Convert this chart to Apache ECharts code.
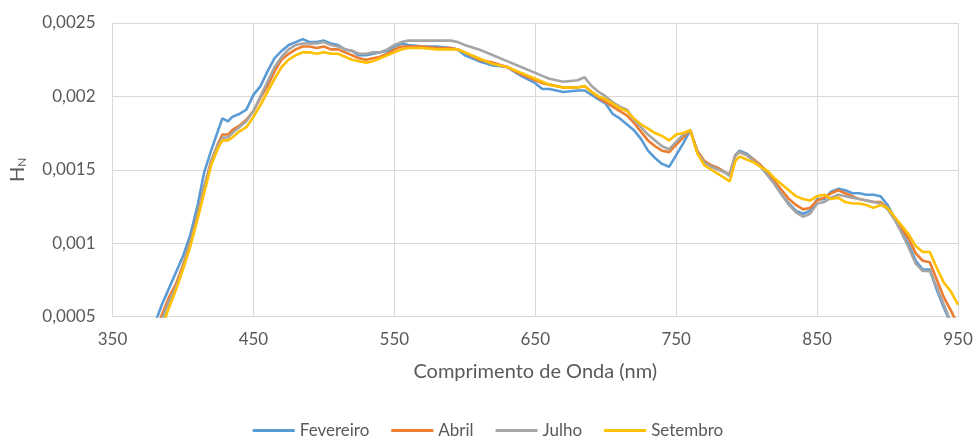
<!DOCTYPE html>
<html>
<head>
<meta charset="utf-8">
<script src="https://cdn.jsdelivr.net/npm/echarts@6/dist/echarts.min.js"></script>
<style>
html,body{margin:0;padding:0;background:#fff;}
#chart{width:976px;height:437px;}
</style>
</head>
<body>
<div id="chart"></div>
<script>
var wavelengths = [
  375,380,385,390,395,400,405,410,415,420,
  425,428,432,435,440,445,450,455,460,465,
  470,475,480,485,490,495,500,505,510,515,
  520,525,530,535,540,545,550,555,560,570,
  580,590,595,600,610,620,630,640,650,655,
  660,670,680,685,690,695,700,705,710,715,
  720,725,730,735,740,745,750,755,760,765,
  770,775,780,785,788,792,795,800,805,810,
  815,820,825,830,835,840,845,850,855,860,
  865,870,875,880,885,890,895,900,905,910,
  915,920,925,930,935,940,945,950
];
var fevereiro = [
  0.00032,0.00045,0.00058,0.00069,0.00080,0.00091,0.00105,0.00124,0.00148,0.00163,
  0.00177,0.00185,0.00183,0.00186,0.00188,0.00191,0.00201,0.00207,0.00217,0.00226,
  0.00231,0.00235,0.00237,0.00239,0.00237,0.00237,0.00238,0.00236,0.00235,0.00232,
  0.00231,0.00228,0.00228,0.00229,0.00230,0.00231,0.00234,0.00236,0.00235,0.00234,
  0.00234,0.00233,0.00232,0.00228,0.00224,0.00221,0.00220,0.00214,0.00209,0.00205,
  0.00205,0.00203,0.00204,0.00204,0.00201,0.00198,0.00195,0.00188,0.00185,0.00181,
  0.00177,0.00171,0.00163,0.00158,0.00154,0.00152,0.00160,0.00168,0.00177,0.00162,
  0.00155,0.00153,0.00151,0.00148,0.00146,0.00160,0.00163,0.00161,0.00157,0.00153,
  0.00148,0.00140,0.00133,0.00127,0.00122,0.00120,0.00122,0.00130,0.00130,0.00135,
  0.00137,0.00136,0.00134,0.00134,0.00133,0.00133,0.00132,0.00126,0.00117,0.00108,
  0.00099,0.00088,0.00082,0.00082,0.00068,0.00056,0.00045,0.00035
];
var abril = [
  0.00025,0.00038,0.00051,0.00063,0.00072,0.00085,0.00100,0.00118,0.00138,0.00156,
  0.00168,0.00174,0.00174,0.00177,0.00180,0.00184,0.00190,0.00199,0.00207,0.00217,
  0.00225,0.00229,0.00232,0.00234,0.00234,0.00233,0.00234,0.00232,0.00232,0.00230,
  0.00228,0.00226,0.00225,0.00226,0.00227,0.00229,0.00232,0.00234,0.00234,0.00234,
  0.00233,0.00233,0.00232,0.00230,0.00225,0.00223,0.00220,0.00215,0.00211,0.00209,
  0.00208,0.00206,0.00206,0.00207,0.00203,0.00199,0.00196,0.00193,0.00190,0.00187,
  0.00182,0.00176,0.00170,0.00166,0.00163,0.00162,0.00167,0.00172,0.00177,0.00163,
  0.00156,0.00153,0.00151,0.00148,0.00147,0.00160,0.00162,0.00160,0.00157,0.00153,
  0.00148,0.00142,0.00136,0.00130,0.00126,0.00123,0.00124,0.00129,0.00131,0.00134,
  0.00136,0.00134,0.00132,0.00130,0.00129,0.00128,0.00128,0.00124,0.00117,0.00110,
  0.00103,0.00093,0.00088,0.00087,0.00075,0.00063,0.00054,0.00044
];
var julho = [
  0.00022,0.00035,0.00048,0.00060,0.00070,0.00083,0.00099,0.00117,0.00137,0.00155,
  0.00167,0.00172,0.00172,0.00175,0.00179,0.00183,0.00190,0.00200,0.00210,0.00220,
  0.00227,0.00232,0.00235,0.00236,0.00236,0.00236,0.00237,0.00235,0.00234,0.00232,
  0.00231,0.00229,0.00229,0.00230,0.00230,0.00232,0.00235,0.00237,0.00238,0.00238,
  0.00238,0.00238,0.00237,0.00235,0.00232,0.00228,0.00224,0.00220,0.00216,0.00214,
  0.00212,0.00210,0.00211,0.00213,0.00207,0.00203,0.00200,0.00196,0.00193,0.00191,
  0.00184,0.00179,0.00174,0.00170,0.00166,0.00164,0.00169,0.00174,0.00177,0.00162,
  0.00155,0.00152,0.00150,0.00148,0.00146,0.00160,0.00162,0.00160,0.00156,0.00152,
  0.00146,0.00140,0.00133,0.00126,0.00121,0.00118,0.00120,0.00127,0.00128,0.00131,
  0.00133,0.00132,0.00131,0.00130,0.00129,0.00128,0.00127,0.00123,0.00116,0.00107,
  0.00097,0.00086,0.00081,0.00081,0.00070,0.00058,0.00046,0.00036
];
var setembro = [
  0.00020,0.00030,0.00042,0.00056,0.00068,0.00082,0.00097,0.00115,0.00134,0.00153,
  0.00165,0.00170,0.00170,0.00172,0.00176,0.00179,0.00186,0.00194,0.00203,0.00212,
  0.00220,0.00225,0.00228,0.00230,0.00230,0.00229,0.00230,0.00229,0.00229,0.00227,
  0.00225,0.00224,0.00223,0.00224,0.00226,0.00228,0.00230,0.00232,0.00233,0.00233,
  0.00232,0.00232,0.00232,0.00230,0.00226,0.00222,0.00220,0.00216,0.00212,0.00210,
  0.00208,0.00206,0.00206,0.00207,0.00203,0.00200,0.00198,0.00195,0.00192,0.00190,
  0.00185,0.00181,0.00178,0.00175,0.00173,0.00170,0.00174,0.00175,0.00177,0.00161,
  0.00153,0.00150,0.00147,0.00144,0.00142,0.00156,0.00159,0.00157,0.00155,0.00152,
  0.00149,0.00144,0.00140,0.00136,0.00132,0.00130,0.00129,0.00132,0.00133,0.00130,
  0.00131,0.00128,0.00127,0.00127,0.00126,0.00124,0.00126,0.00124,0.00118,0.00112,
  0.00106,0.00098,0.00094,0.00094,0.00083,0.00073,0.00067,0.00058
];
var seriesNames = ['Fevereiro','Abril','Julho','Setembro'];
var seriesColors = ['#5B9BD5','#ED7D31','#A5A5A5','#FFC000'];
var seriesValues = [fevereiro, abril, julho, setembro];

var FONT = 'Lato';
var TXT = '#595959';

function pairs(vals){ return wavelengths.map(function(w,i){ return [w, vals[i]]; }); }

var chart = echarts.init(document.getElementById('chart'), null, {renderer:'canvas'});
chart.setOption({
  animation:false,
  textStyle:{fontFamily:FONT},
  grid:{left:111, right:18, top:23, bottom:120.5, containLabel:false},
  legend:{
    data:seriesNames, left:'center', top:422, padding:0, icon:'rect', itemWidth:42, itemHeight:3,
    itemGap:22, textStyle:{fontFamily:FONT, fontSize:17, color:TXT}
  },
  xAxis:{
    type:'value', min:350, max:950, interval:100,
    name:'Comprimento de Onda (nm)', nameLocation:'middle', nameGap:45,
    nameTextStyle:{fontFamily:FONT, fontSize:20, color:TXT},
    axisLine:{show:true, lineStyle:{color:'#D9D9D9', width:1}},
    axisTick:{show:false},
    axisLabel:{margin:15, fontFamily:FONT, fontSize:17, color:TXT},
    splitLine:{show:true, lineStyle:{color:'#D9D9D9', width:1}}
  },
  yAxis:{
    type:'value', min:0.0005, max:0.0025, interval:0.0005,
    name:'{h|H}{n|N}', nameLocation:'middle', nameGap:84, nameRotate:90,
    nameTextStyle:{fontFamily:FONT, color:TXT, rich:{
      h:{fontFamily:FONT, fontSize:20, color:TXT},
      n:{fontFamily:FONT, fontSize:12, color:TXT, padding:[9,0,0,0]}
    }},
    axisLine:{show:false}, axisTick:{show:false},
    axisLabel:{margin:17, fontFamily:FONT, fontSize:17, color:TXT,
      formatter:function(v){ return String(Number(v.toFixed(5))).replace('.', ','); }},
    splitLine:{show:true, lineStyle:{color:'#D9D9D9', width:1}}
  },
  series: seriesNames.map(function(n,i){
    return {
      name:n, type:'line', data:pairs(seriesValues[i]), showSymbol:false, symbol:'none',
      smooth:false, clip:true, color:seriesColors[i],
      lineStyle:{color:seriesColors[i], width:2.6}
    };
  })
});
</script>
</body>
</html>
